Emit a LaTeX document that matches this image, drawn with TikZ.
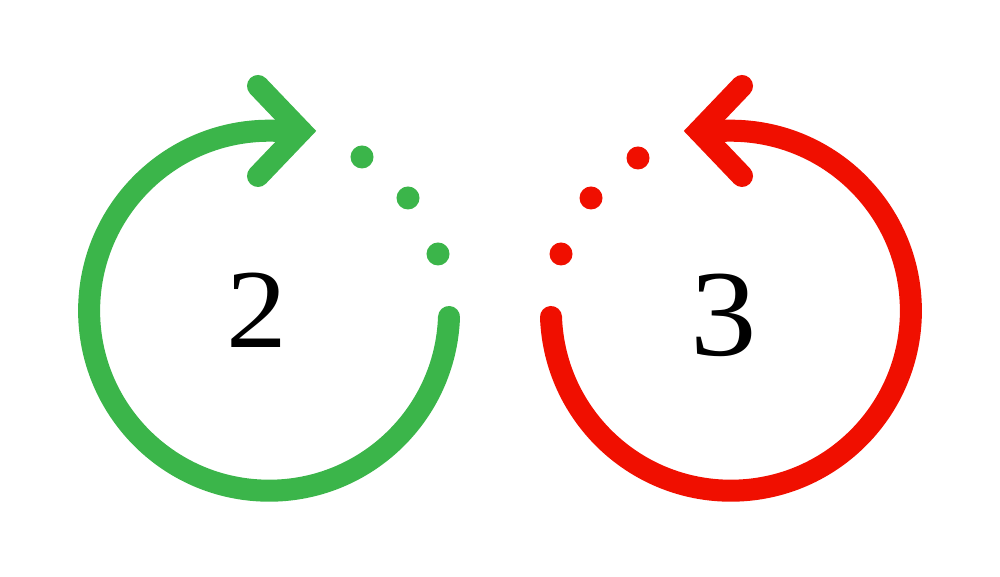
\documentclass[tikz,border=0pt]{standalone}
\usepackage{fontspec}
\setmainfont{Liberation Serif}
\definecolor{cgreen}{RGB}{59,181,74}
\definecolor{cred}{RGB}{240,15,0}
\begin{document}
\begin{tikzpicture}[x=0.01cm,y=-0.01cm,
  loopline/.style={line width=0.22cm,line cap=round,line join=round},
  headline/.style={line width=0.22cm,line cap=round,line join=miter},
  dotmark/.style={circle,inner sep=0pt,minimum size=0.23cm},
  digit/.style={inner sep=0pt,text=black,xscale=1.08}]
\useasboundingbox (0,0) rectangle (1000,577);
% green loop
\coordinate (gstart) at (449,317);
\coordinate (gtip) at (301,131);
\draw[loopline,cgreen] (gstart) arc[start angle=2,end angle=270,radius=180] -- (gtip);
\coordinate (ga) at (258,86);
\coordinate (gb) at (258,176);
\draw[headline,cgreen] (ga) -- (gtip) -- (gb);
\node[dotmark,fill=cgreen] (gd1) at (362,157) {};
\node[dotmark,fill=cgreen] (gd2) at (408,198) {};
\node[dotmark,fill=cgreen] (gd3) at (438,254) {};
\node[digit,font=\fontsize{32pt}{36pt}\selectfont] (two) at (257,310) {2};
% red loop
\coordinate (rstart) at (551,317);
\coordinate (rtip) at (699,131);
\draw[loopline,cred] (rstart) arc[start angle=178,end angle=-90,radius=180] -- (rtip);
\coordinate (ra) at (742,86);
\coordinate (rb) at (742,176);
\draw[headline,cred] (ra) -- (rtip) -- (rb);
\node[dotmark,fill=cred] (rd1) at (638,158) {};
\node[dotmark,fill=cred] (rd2) at (591,198) {};
\node[dotmark,fill=cred] (rd3) at (561,254) {};
\node[digit,font=\fontsize{35pt}{40pt}\selectfont] (three) at (724,315) {3};
\end{tikzpicture}
\end{document}
